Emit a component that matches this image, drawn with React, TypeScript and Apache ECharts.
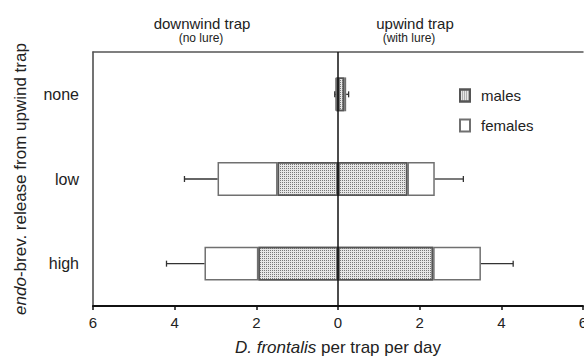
import React, { useEffect, useRef } from "react";
import * as echarts from "echarts";

const categories = ["none", "low", "high"];
const xTicks = [-6, -4, -2, 0, 2, 4, 6];
// downwind trap (no lure) — plotted to the left
const downMales = [0.04, 1.48, 1.95];
const downFemales = [0.02, 1.47, 1.32];
const downErr = [0.02, 0.81, 0.93];
// upwind trap (with lure) — plotted to the right
const upMales = [0.15, 1.7, 2.33];
const upFemales = [0.05, 0.67, 1.17];
const upErr = [0.06, 0.7, 0.79];

const FONT = "Liberation Sans, Arial, sans-serif";

export default function App() {
  const ref = useRef<HTMLDivElement>(null);
  useEffect(() => {
    if (!ref.current) return;
    const chart = echarts.init(ref.current, undefined, { renderer: "svg" });

    const downTotal = downMales.map((m, i) => m + downFemales[i]);
    const upTotal = upMales.map((m, i) => m + upFemales[i]);
    const errData: number[][] = [];
    categories.forEach((_, i) => {
      errData.push([i, -downTotal[i], -(downTotal[i] + downErr[i])]);
      errData.push([i, upTotal[i], upTotal[i] + upErr[i]]);
    });

    const malesStyle = {
      color: "#e6e6e6",
      borderColor: "#555",
      borderWidth: 1.5,
      decal: {
        symbol: "rect",
        symbolSize: 1,
        color: "#777",
        dashArrayX: [1, 1],
        dashArrayY: [1, 1],
        rotation: 0,
      },
    };
    const femalesStyle = { color: "#ffffff", borderColor: "#707070", borderWidth: 1.5 };

    const option: any = {
      animation: false,
      textStyle: { fontFamily: FONT },
      grid: { left: 93, right: 1, top: 52, bottom: 51, containLabel: false, outerBoundsMode: "none" },
      legend: {
        orient: "vertical",
        left: 459,
        top: 88,
        padding: 0,
        itemWidth: 10,
        itemHeight: 12,
        itemGap: 15,
        icon: "rect",
        data: ["males", "females"],
        textStyle: { fontSize: 15, color: "#222", fontFamily: FONT, padding: [0, 0, 0, 6] },
      },
      xAxis: [
        {
          type: "value",
          min: -6,
          max: 6,
          interval: 2,
          position: "bottom",
          axisLine: { show: true, onZero: false, lineStyle: { color: "#111", width: 2 } },
          axisTick: { show: true, length: 4, lineStyle: { color: "#111", width: 1.5 } },
          splitLine: { show: false },
          axisLabel: {
            fontSize: 15,
            color: "#222",
            margin: 9,
            fontFamily: FONT,
            formatter: (v: number) => String(Math.abs(v)),
          },
          name: "{i|D. frontalis} per trap per day",
          nameLocation: "middle",
          nameGap: 33,
          nameTextStyle: {
            fontSize: 17,
            color: "#222",
            fontFamily: FONT,
            rich: { i: { fontStyle: "italic", fontSize: 17, color: "#222", fontFamily: FONT } },
          },
        },
        {
          type: "value",
          min: -6,
          max: 6,
          interval: 2,
          position: "top",
          axisLine: { show: true, onZero: false, lineStyle: { color: "#555", width: 1.5 } },
          axisTick: { show: false },
          axisLabel: { show: false },
          splitLine: { show: false },
        },
      ],
      yAxis: {
        type: "category",
        data: categories,
        inverse: true,
        axisLine: { show: true, onZero: false, lineStyle: { color: "#444", width: 1.5 } },
        axisTick: { show: false },
        axisLabel: { fontSize: 16, color: "#222", margin: 14, fontFamily: FONT },
        name: "{i|endo}-brev. release from upwind trap",
        nameLocation: "middle",
        nameGap: 64,
        nameTextStyle: {
          fontSize: 17,
          color: "#222",
          fontFamily: FONT,
          rich: { i: { fontStyle: "italic", fontSize: 17, color: "#222", fontFamily: FONT } },
        },
      },
      graphic: [
        { type: "text", x: 202, y: 23, style: { text: "downwind trap", font: "15px Liberation Sans", fill: "#222", align: "center", verticalAlign: "middle" } },
        { type: "text", x: 201, y: 38, style: { text: "(no lure)", font: "12px Liberation Sans", fill: "#222", align: "center", verticalAlign: "middle" } },
        { type: "text", x: 415, y: 23, style: { text: "upwind trap", font: "15px Liberation Sans", fill: "#222", align: "center", verticalAlign: "middle" } },
        { type: "text", x: 409, y: 38, style: { text: "(with lure)", font: "12px Liberation Sans", fill: "#222", align: "center", verticalAlign: "middle" } },
      ],
      series: [
        { name: "males", type: "bar", stack: "down", barWidth: "40%", barGap: "-100%", data: downMales.map((v) => -v), itemStyle: malesStyle },
        { name: "females", type: "bar", stack: "down", barWidth: "40%", barGap: "-100%", data: downFemales.map((v) => -v), itemStyle: femalesStyle },
        { name: "males", type: "bar", stack: "up", barWidth: "40%", barGap: "-100%", data: upMales, itemStyle: malesStyle },
        { name: "females", type: "bar", stack: "up", barWidth: "40%", barGap: "-100%", data: upFemales, itemStyle: femalesStyle },
        {
          type: "custom",
          z: 5,
          data: errData,
          encode: { x: [1, 2], y: 0 },
          renderItem: (params: any, api: any) => {
            const c = api.value(0);
            const p1 = api.coord([api.value(1), c]);
            const p2 = api.coord([api.value(2), c]);
            const st = { stroke: "#333", lineWidth: 1.3 };
            return {
              type: "group",
              children: [
                { type: "line", shape: { x1: p1[0], y1: p1[1], x2: p2[0], y2: p2[1] }, style: st },
                { type: "line", shape: { x1: p2[0], y1: p2[1] - 3, x2: p2[0], y2: p2[1] + 3 }, style: st },
              ],
            };
          },
          markLine: {
            silent: true,
            symbol: "none",
            label: { show: false },
            lineStyle: { color: "#111", width: 1.5, type: "solid" },
            data: [{ xAxis: 0 }],
          },
        },
      ],
    };
    chart.setOption(option);
    return () => chart.dispose();
  }, []);
  return <div ref={ref} style={{ position: "absolute", left: 0, top: 0, width: 584, height: 357 }} />;
}
